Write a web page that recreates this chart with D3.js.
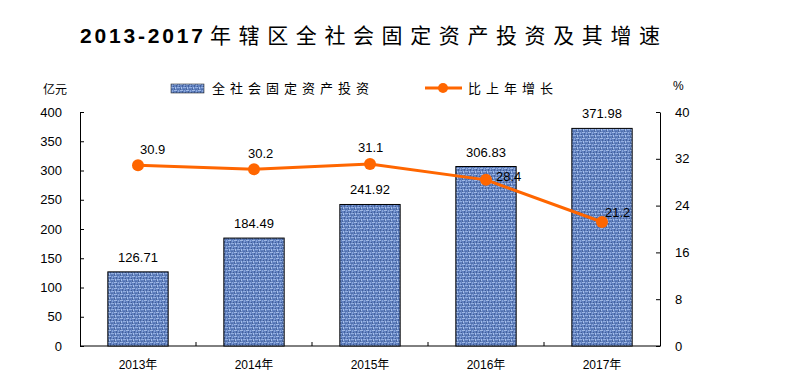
<!DOCTYPE html>
<html>
<head>
<meta charset="utf-8">
<script src="https://cdn.jsdelivr.net/npm/d3@7"></script>
<style>
  body { margin: 0; background: white; }
  text { font-family: Arial, "Liberation Sans", "Noto Sans CJK SC", sans-serif; }
</style>
</head>
<body>
<div id="chart"></div>
<script>
// Data
const years = ['2013年', '2014年', '2015年', '2016年', '2017年'];
const investment = [126.71, 184.49, 241.92, 306.83, 371.98];
const growth = [30.9, 30.2, 31.1, 28.4, 21.2];
const leftTicks = [0, 50, 100, 150, 200, 250, 300, 350, 400];
const rightTicks = [0, 8, 16, 24, 32, 40];

let width = 804,
    height = 381;

let margin = {top: 112, bottom: 35, left: 80, right: 144};

let svg = d3.select('#chart')
            .append('svg')
            .attr('width', width)
            .attr('height', height)
            .style('background', 'white');

// Bar texture
let defs = svg.append('defs');
let pat = defs.append('pattern')
              .attr('id', 'weave')
              .attr('patternUnits', 'userSpaceOnUse')
              .attr('width', 6)
              .attr('height', 6);
pat.append('rect').attr('width', 6).attr('height', 6).attr('fill', '#6282c0');
[[0, 0, 3, 1, '#9fb8e4'], [4, 0, 1, 2, '#8aa6dc'], [1, 3, 1, 2, '#a8c0ea'],
 [3, 3, 3, 1, '#94afe0'], [2, 1, 1, 2, '#44629f'], [5, 2, 1, 1, '#3d5a96'],
 [0, 4, 1, 2, '#48669f'], [3, 5, 2, 1, '#5070ad']].forEach(p => {
    pat.append('rect').attr('x', p[0]).attr('y', p[1])
       .attr('width', p[2]).attr('height', p[3]).attr('fill', p[4]);
});

// Scales
let xScale = d3.scaleBand()
               .domain(years)
               .range([margin.left, width - margin.right]);

let yScale = d3.scaleLinear()
               .domain([0, 400])
               .range([height - margin.bottom, margin.top]);

let y2Scale = d3.scaleLinear()
                .domain([0, 40])
                .range([height - margin.bottom, margin.top]);

// Axes
let yAxis = svg.append('g')
               .attr('transform', `translate(${margin.left},0)`)
               .call(d3.axisLeft(yScale).tickValues(leftTicks).tickSizeInner(-4).tickSizeOuter(0).tickPadding(18));

let y2Axis = svg.append('g')
                .attr('transform', `translate(${width - margin.right},0)`)
                .call(d3.axisRight(y2Scale).tickValues(rightTicks).tickSizeInner(-4).tickSizeOuter(0).tickPadding(15));

[yAxis, y2Axis].forEach(a => {
    a.select('.domain').attr('stroke', 'black');
    a.selectAll('line').attr('stroke', 'black');
    a.selectAll('text').attr('font-size', 13).attr('fill', 'black')
     .attr('font-family', 'Arial, "Liberation Sans", sans-serif');
});

// X axis line with ticks between categories
let base = height - margin.bottom;
svg.append('line')
   .attr('x1', margin.left).attr('x2', width - margin.right)
   .attr('y1', base).attr('y2', base)
   .attr('stroke', 'black');
svg.selectAll('.xtick')
   .data(years.slice(1))
   .enter().append('line')
   .attr('x1', d => xScale(d)).attr('x2', d => xScale(d))
   .attr('y1', base).attr('y2', base - 4)
   .attr('stroke', 'black');
svg.selectAll('.xlabel')
   .data(years)
   .enter().append('text')
   .attr('x', d => xScale(d) + xScale.bandwidth() / 2)
   .attr('y', base + 23)
   .attr('text-anchor', 'middle')
   .attr('font-size', 12)
   .text(d => d);

// Bars
let barW = xScale.bandwidth() * 0.52;
svg.selectAll('.bar')
   .data(investment)
   .enter().append('rect')
   .attr('x', (d, i) => xScale(years[i]) + (xScale.bandwidth() - barW) / 2)
   .attr('y', d => yScale(d))
   .attr('width', barW)
   .attr('height', d => base - yScale(d))
   .attr('fill', 'url(#weave)')
   .attr('stroke', 'black')
   .attr('stroke-width', 1);

svg.selectAll('.barlabel')
   .data(investment)
   .enter().append('text')
   .attr('x', (d, i) => xScale(years[i]) + xScale.bandwidth() / 2)
   .attr('y', d => yScale(d) - 10)
   .attr('text-anchor', 'middle')
   .attr('font-size', 13)
   .text(d => d.toFixed(2));

// Growth line
let cx = (d, i) => xScale(years[i]) + xScale.bandwidth() / 2;
svg.append('path')
   .datum(growth)
   .attr('d', d3.line().x(cx).y(d => y2Scale(d)))
   .attr('fill', 'none')
   .attr('stroke', '#ff6600')
   .attr('stroke-width', 3);

svg.selectAll('.dot')
   .data(growth)
   .enter().append('circle')
   .attr('cx', cx)
   .attr('cy', d => y2Scale(d))
   .attr('r', 6)
   .attr('fill', '#ff6600');

// label offsets (dx, dy) from each point
const growthLabelOffset = [[2, -11], [-6, -11], [-12, -12], [10, 1], [3, -5]];
svg.selectAll('.linelabel')
   .data(growth)
   .enter().append('text')
   .attr('x', (d, i) => cx(d, i) + growthLabelOffset[i][0])
   .attr('y', (d, i) => y2Scale(d) + growthLabelOffset[i][1])
   .attr('font-size', 13)
   .text(d => d.toFixed(1));

// Units
svg.append('text').attr('x', 43).attr('y', 94).attr('font-size', 12).text('亿元');
svg.append('text').attr('x', 673).attr('y', 90).attr('font-size', 12).text('%');

// Legend
svg.append('rect')
   .attr('x', 171).attr('y', 84).attr('width', 33).attr('height', 9)
   .attr('fill', 'url(#weave)').attr('stroke', '#333').attr('stroke-width', 0.6);
svg.append('text')
   .attr('x', 212).attr('y', 93).attr('font-size', 13).attr('letter-spacing', 5)
   .text('全社会固定资产投资');
svg.append('line')
   .attr('x1', 425).attr('x2', 462).attr('y1', 88).attr('y2', 88)
   .attr('stroke', '#ff6600').attr('stroke-width', 3);
svg.append('circle').attr('cx', 443).attr('cy', 88).attr('r', 5).attr('fill', '#ff6600');
svg.append('text')
   .attr('x', 468).attr('y', 93).attr('font-size', 13).attr('letter-spacing', 5)
   .text('比上年增长');

// Title
let title = svg.append('text').attr('x', 80).attr('y', 43).attr('font-size', 21);
title.append('tspan').attr('font-weight', 'bold').attr('letter-spacing', 2.8)
     .attr('font-family', 'Arial, "Liberation Sans", sans-serif')
     .text('2013-2017');
title.append('tspan').attr('x', 210).attr('letter-spacing', 7.6)
     .attr('font-family', '"Noto Sans CJK SC", sans-serif')
     .text('年辖区全社会固定资产投资及其增速');
</script>
</body>
</html>
